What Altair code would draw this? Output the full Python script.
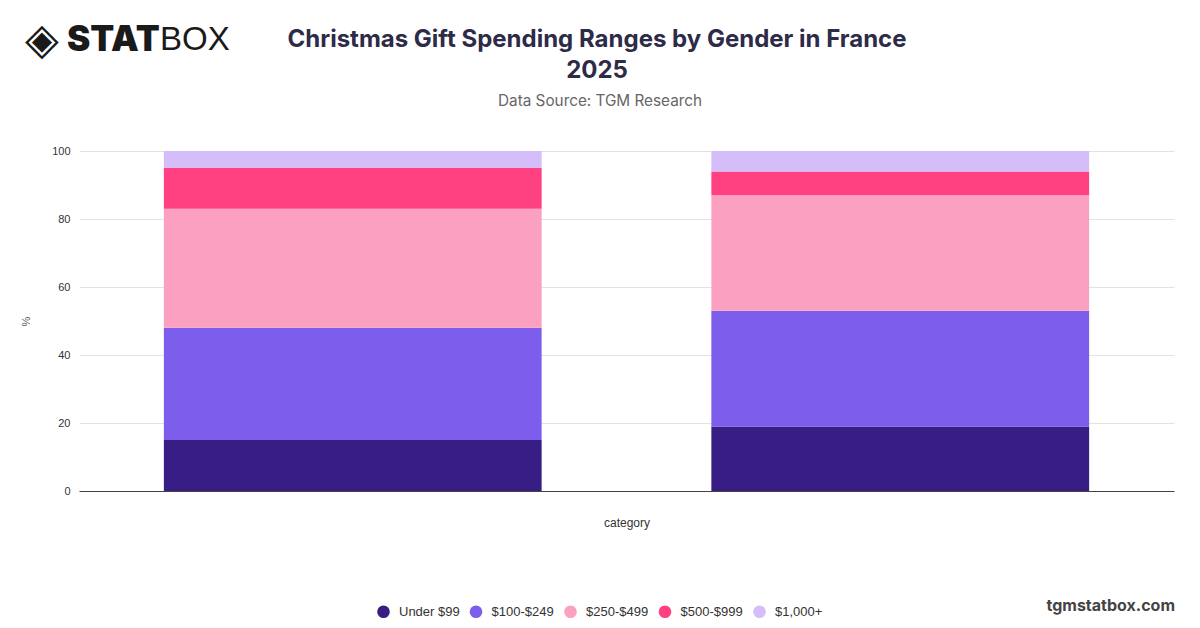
import altair as alt
import pandas as pd

categories = ["Male", "Female"]
ranges = ["Under $99", "$100-$249", "$250-$499", "$500-$999", "$1,000+"]
male_values = [15, 33, 35, 12, 5]
female_values = [19, 34, 34, 7, 6]
colors = ["#381d84", "#7c5dec", "#fca0c2", "#ff4182", "#d5bdfa"]

rows = []
for cat, vals in zip(categories, [male_values, female_values]):
    for i, (r, v) in enumerate(zip(ranges, vals)):
        rows.append({"category": cat, "range": r, "value": v, "idx": i})
df = pd.DataFrame(rows)

W, H = 1095, 340

bars = alt.Chart(df).mark_bar().encode(
    x=alt.X("category:N", sort=categories,
            scale=alt.Scale(paddingInner=0.31, paddingOuter=0.155),
            axis=alt.Axis(labels=False, ticks=False, title="category",
                          titleFontSize=12, titleFontWeight="normal",
                          titleColor="#333333", titleFont="Liberation Sans",
                          titlePadding=26, domainColor="#444444", grid=False)),
    y=alt.Y("value:Q", stack="zero",
            scale=alt.Scale(domain=[0, 100]),
            axis=alt.Axis(values=[0, 20, 40, 60, 80, 100], ticks=False, domain=False,
                          title="%", titleFontSize=11, titleFontWeight="normal",
                          titleColor="#555555", titleFont="Liberation Sans",
                          titlePadding=20, labelFontSize=11, labelColor="#333333",
                          labelFont="Liberation Sans", labelPadding=9,
                          gridColor="#e2e2e2")),
    color=alt.Color("range:N", sort=ranges,
                    scale=alt.Scale(domain=ranges, range=colors),
                    legend=alt.Legend(title=None, orient="none", direction="horizontal",
                                      legendX=298, legendY=454, symbolType="circle",
                                      symbolSize=160, symbolStrokeWidth=0,
                                      labelFontSize=13, labelFont="Liberation Sans",
                                      labelColor="#333333", labelOffset=9,
                                      columnPadding=9.5)),
    order=alt.Order("idx:Q", sort="ascending"),
)

def text_layer(txt, x, y, size, weight="normal", color="#333333", font="Inter", align="center"):
    return alt.Chart(pd.DataFrame({"t": [txt]})).mark_text(
        fontSize=size, fontWeight=weight, color=color, font=font,
        align=align, baseline="middle"
    ).encode(x=alt.value(x), y=alt.value(y), text="t:N")

title1 = text_layer("Christmas Gift Spending Ranges by Gender in France", 518, -111, 24, "bold", "#2e2b48")
title2 = text_layer("2025", 518, -80, 24, "bold", "#2e2b48")
subtitle = text_layer("Data Source: TGM Research", 521, -50, 15.3, "normal", "#666666")
logo_icon = text_layer("◈", -37, -110, 44, "normal", "#1a1a1a", "DejaVu Sans", "center")
logo_a = text_layer("STAT", -12, -111, 35, 900, "#1a1a1a", "Inter", "left")
logo_b = text_layer("BOX", 81, -111, 33, 300, "#1a1a1a", "Liberation Sans", "left")
site = text_layer("tgmstatbox.com", 1096, 455, 16, "bold", "#444444", "Inter", "right")

chart = alt.layer(bars, title1, title2, subtitle, logo_icon, logo_a, logo_b, site).properties(
    width=W, height=H,
    autosize=alt.AutoSizeParams(type="none"),
    padding={"left": 71, "top": 143, "right": 18, "bottom": 128},
).configure(background="white").configure_view(stroke=None)

chart.save("out.html", embed_options={"renderer": "svg", "actions": False})
